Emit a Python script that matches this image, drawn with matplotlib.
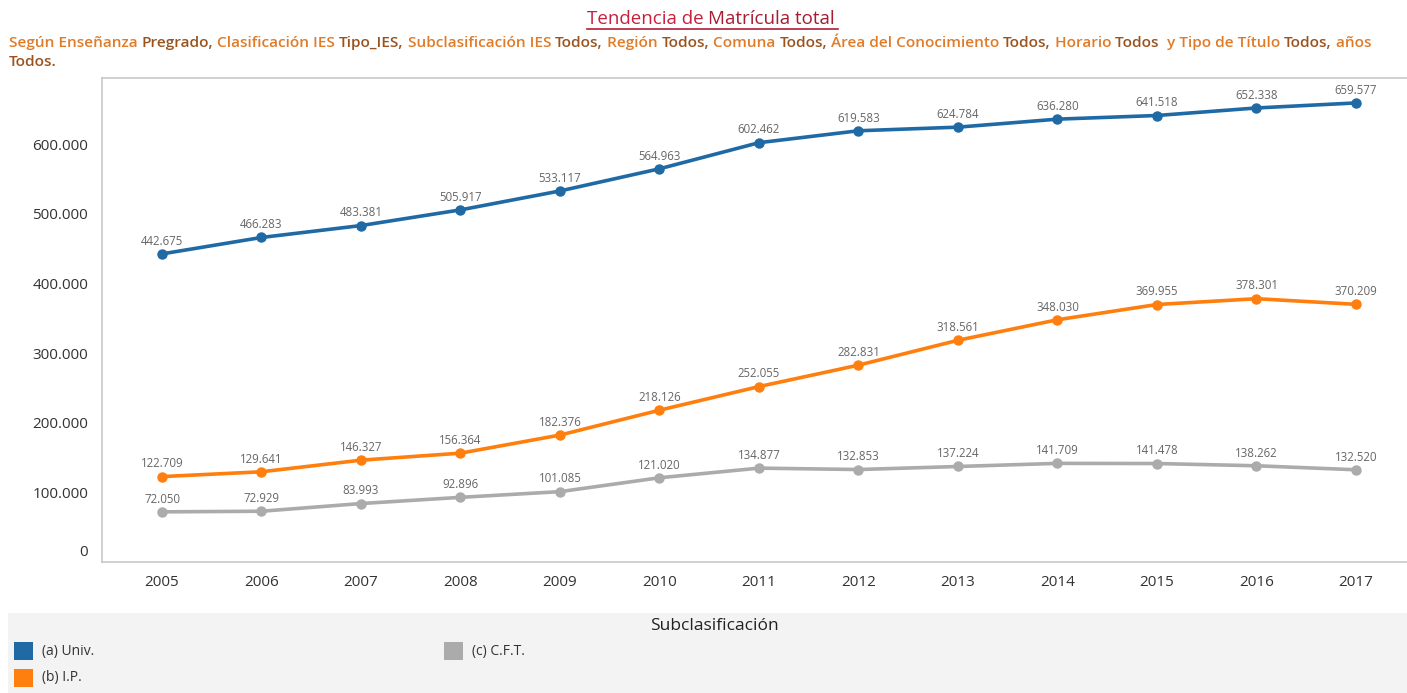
import matplotlib.pyplot as plt
from matplotlib.patches import Rectangle
import matplotlib.transforms as mtransforms

plt.rcParams['font.family'] = ['Open Sans', 'DejaVu Sans']

years = [2005, 2006, 2007, 2008, 2009, 2010, 2011, 2012, 2013, 2014, 2015, 2016, 2017]
univ = [442675, 466283, 483381, 505917, 533117, 564963, 602462, 619583, 624784, 636280, 641518, 652338, 659577]
ip = [122709, 129641, 146327, 156364, 182376, 218126, 252055, 282831, 318561, 348030, 369955, 378301, 370209]
cft = [72050, 72929, 83993, 92896, 101085, 121020, 134877, 132853, 137224, 141709, 141478, 138262, 132520]
series_names = ['(a) Univ.', '(b) I.P.', '(c) C.F.T.']
colors = ['#1f6aa5', '#ff7f0e', '#ababab']
yticks = [0, 100000, 200000, 300000, 400000, 500000, 600000]

W, H = 1407, 693
fig = plt.figure(figsize=(W / 100, H / 100), dpi=100)

def fx(px):
    return px / W

def fy(py):
    return 1 - py / H

ax = fig.add_axes([fx(102), fy(562), fx(1407) - fx(102), fy(78) - fy(562)])
ax.set_xlim(2004.397, 2017.513)
ax.set_ylim(0, 695400)

for vals, c in zip([univ, ip, cft], colors):
    ax.plot(years, vals, color=c, lw=2.6, marker='o', ms=6.5, solid_capstyle='round', zorder=3,
            clip_on=False)
    for x, v in zip(years, vals):
        ax.annotate(f"{v:,}".replace(',', '.'), (x, v), xytext=(0, 4.5), textcoords='offset points',
                    ha='center', va='bottom', fontsize=8.3, color='#666666', zorder=4)

ax.set_xticks(years)
ax.set_xticklabels([str(y) for y in years])
ax.set_yticks(yticks)
ax.set_yticklabels([f"{v:,}".replace(',', '.') for v in yticks])
ax.tick_params(length=0, labelsize=11, labelcolor='#333333')
ax.tick_params(axis='x', pad=9)
ax.tick_params(axis='y', pad=10)
# the zero label sits a bit above the baseline, like in the original
lab0 = ax.get_yticklabels()[0]
lab0.set_transform(lab0.get_transform() + mtransforms.ScaledTranslation(0, 12 / 100, fig.dpi_scale_trans))
for s in ['left', 'bottom', 'top']:
    ax.spines[s].set_color('#c8c8c8')
    ax.spines[s].set_linewidth(1.2)
ax.spines['right'].set_visible(False)

fig.canvas.draw()
r = fig.canvas.get_renderer()

def run_text(parts, x0, y0, size, weight):
    x = x0
    for s, c in parts:
        t = fig.text(x, y0, s, color=c, fontsize=size, fontweight=weight, va='center', ha='left')
        x += t.get_window_extent(r).width / W
    return x

# title
title_parts = [("Tendencia de ", '#c8203c'), ("Matrícula total", '#a61d33')]
tmp = fig.text(0, 0, "Tendencia de Matrícula total", fontsize=13.5)
tw = tmp.get_window_extent(r).width / W
tmp.remove()
xs = fx(587)
xe = run_text(title_parts, xs, fy(19), 13.5, 'normal')
fig.add_artist(plt.Line2D([xs, xe + 0.002], [fy(29), fy(29)], color='#b01e36', lw=1.2))

org = '#e07b28'
brn = '#9a531f'
line1 = [("Según Enseñanza ", org), ("Pregrado,", brn), (" Clasificación IES ", org), ("Tipo_IES,", brn),
         (" Subclasificación IES ", org), ("Todos,", brn), (" Región ", org), ("Todos,", brn),
         (" Comuna ", org), ("Todos,", brn), (" Área del Conocimiento ", org), ("Todos,", brn),
         (" Horario ", org), ("Todos ", brn), (" y Tipo de Título ", org), ("Todos,", brn), (" años", org)]
run_text(line1, fx(9), fy(43), 11.1, 'semibold')
run_text([("Todos.", brn)], fx(9), fy(62), 11.1, 'semibold')

# legend panel
fig.add_artist(Rectangle((fx(8), 0), 1 - fx(8), fy(613), transform=fig.transFigure,
                         facecolor='#f3f3f3', edgecolor='none', zorder=0))
fig.text(fx(714), fy(626), "Subclasificación", fontsize=12.5, color='#222222', ha='center', va='center')
leg_pos = [(14, 651), (14, 678), (444, 651)]
for (px, py), name, c in zip(leg_pos, series_names, colors):
    fig.add_artist(Rectangle((fx(px), fy(py + 9)), fx(19), 18 / H, transform=fig.transFigure,
                             facecolor=c, edgecolor='none'))
    fig.text(fx(px + 28), fy(py), name, fontsize=10, color='#333333', va='center')

fig.savefig('out.png', dpi=100)
